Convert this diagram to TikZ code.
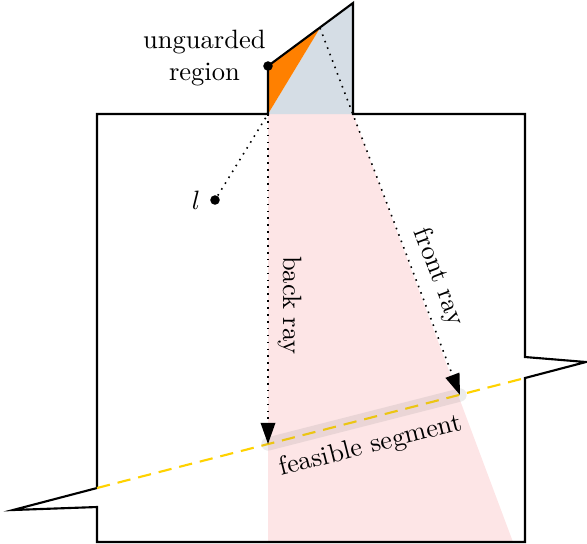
\documentclass[tikz,border=0pt]{standalone}
\usepackage{xcolor}
\usetikzlibrary{arrows.meta,positioning}

\definecolor{guardblue}{HTML}{D5DDE5}
\definecolor{conepink}{HTML}{FDE5E6}
\definecolor{lineyellow}{HTML}{FFD200}

\begin{document}
\begin{tikzpicture}[
  x=0.377pt, y=-0.377pt,
  >={Triangle[length=8pt, width=5.5pt]},
  dot/.style={circle, fill, inner sep=0pt, minimum size=3.6pt},
  wall/.style={thick, line join=miter, miter limit=20},
  ray/.style={->, dotted, semithick},
  segline/.style={lineyellow, line width=0.8pt, dash pattern=on 5pt off 3pt},
  feasible/.style={gray, opacity=0.15, line width=5pt, line cap=round}
]
  \useasboundingbox (0,0) rectangle (587,543);

  % Key points
  \coordinate (apex)  at (320,28);
  \coordinate (bcorn) at (268,114);
  \coordinate (bend)  at (268,444);
  \coordinate (fend)  at (460,395);
  \coordinate (lwall) at (97,488);
  \coordinate (rwall) at (525,378);

  % Regions
  \fill[conepink] (bcorn) -- (353,114) -- (513,542) -- (268,542) -- cycle;
  \fill[guardblue] (bcorn) -- (apex) -- (353,3) -- (353,114) -- cycle;
  \fill[orange] (268,66) -- (apex) -- (bcorn) -- cycle;

  % Polygon
  \draw[wall] (97,114) -- (bcorn) -- (268,66) -- (353,3) -- (353,114)
    -- (525,114) -- (525,357) -- (586,362) -- (rwall) -- (525,542)
    -- (97,542) -- (97,507) -- (13,510) -- (lwall) -- cycle;

  % Line and feasible segment
  \draw[segline] (lwall) -- (rwall);
  \draw[feasible] (bend) -- node[sloped, below, pos=0.5, text=black, opacity=1] (seglab) {feasible segment} (fend);

  % Points
  \node[dot, label={left:$l$}] (l) at (215,200) {};
  \node[dot] (ug) at (268,66) {};
  \node[align=center, anchor=east] (uglab) at (275,58) {unguarded\\region};

  % Rays
  \draw[dotted, semithick] (l) -- (bcorn);
  \draw[ray] (bcorn) -- node[sloped, above, pos=0.58] (backlab) {back ray} (bend);
  \draw[ray] (apex) -- node[sloped, above, pos=0.70] (frontlab) {front ray} (fend);
\end{tikzpicture}
\end{document}
